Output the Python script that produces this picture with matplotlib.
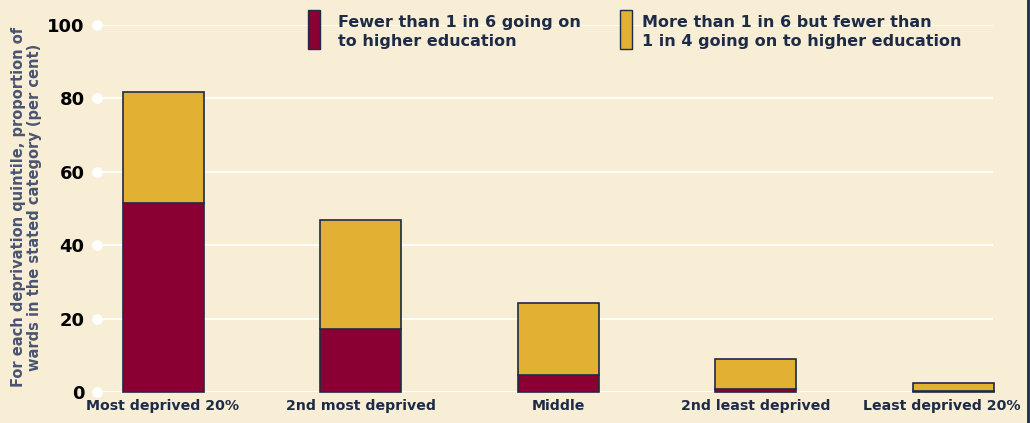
import matplotlib
matplotlib.use("Agg")
import matplotlib.pyplot as plt
import matplotlib.transforms as mtransforms
from matplotlib.patches import Rectangle
from matplotlib.lines import Line2D
import numpy as np

categories = ["Most deprived 20%", "2nd most deprived", "Middle",
              "2nd least deprived", "Least deprived 20%"]
fewer_1_in_6 = [51.5, 17.2, 4.7, 0.9, 0.3]
between_6_and_4 = [30.2, 29.7, 19.6, 8.1, 2.2]
yticks = [0, 20, 40, 60, 80, 100]
legend_labels = ["Fewer than 1 in 6 going on\nto higher education",
                 "More than 1 in 6 but fewer than\n1 in 4 going on to higher education"]

BG = "#F8EED5"
MAROON = "#8A0032"
GOLD = "#E2B133"
NAVY = "#1E2B47"

plt.rcParams['font.family'] = ['DejaVu Sans']

fig = plt.figure(figsize=(10.3, 4.23), dpi=100, facecolor=BG)
ax = fig.add_axes([0.0942, 0.0733, 0.870, 0.868], facecolor=BG)

x = np.arange(len(categories))
w = 0.41
ax.bar(x, fewer_1_in_6, w, color=MAROON, edgecolor=NAVY, linewidth=1.2,
       zorder=3, clip_on=False)
ax.bar(x, between_6_and_4, w, bottom=fewer_1_in_6, color=GOLD,
       edgecolor=NAVY, linewidth=1.2, zorder=3, clip_on=False)

ax.set_xlim(-0.334, 4.2)
ax.set_ylim(0, 100)
for s in ax.spines.values():
    s.set_visible(False)

for t in yticks:
    ax.axhline(t, color="white", linewidth=1.3, zorder=1)
ax.scatter([-0.334] * len(yticks), yticks, s=45, color="white", zorder=4, clip_on=False)

ax.set_yticks(yticks)
ax.set_yticklabels([str(t) for t in yticks], fontsize=13, fontweight="bold", color="black")
ax.tick_params(axis="y", length=0, pad=9)
ax.set_xticks(x)
ax.set_xticklabels(categories, fontsize=10.2, fontweight="bold", color=NAVY)
ax.tick_params(axis="x", length=0, pad=5)
# nudge the last label left so it stays inside the frame
last = ax.get_xticklabels()[-1]
last.set_transform(last.get_transform() +
                   mtransforms.ScaledTranslation(-0.12, 0, fig.dpi_scale_trans))

fig.text(0.026, 0.51, "For each deprivation quintile, proportion of\nwards in the stated category (per cent)",
         rotation=90, ha="center", va="center", fontsize=10.5, fontweight="bold",
         color="#4A5470", linespacing=1.1)

# legend
fig.patches.append(Rectangle((0.299, 0.883), 0.012, 0.094, transform=fig.transFigure,
                             facecolor=MAROON, edgecolor=NAVY, linewidth=1))
fig.patches.append(Rectangle((0.602, 0.883), 0.012, 0.094, transform=fig.transFigure,
                             facecolor=GOLD, edgecolor=NAVY, linewidth=1))
fig.text(0.328, 0.925, legend_labels[0], ha="left", va="center", fontsize=11.5,
         fontweight="bold", color=NAVY, linespacing=1.3)
fig.text(0.623, 0.925, legend_labels[1], ha="left", va="center", fontsize=11.5,
         fontweight="bold", color=NAVY, linespacing=1.3)

# right border line
fig.lines.append(Line2D([0.9985, 0.9985], [0, 1], transform=fig.transFigure,
                        color=NAVY, linewidth=2))

fig.savefig("out.png", dpi=100, facecolor=BG)
